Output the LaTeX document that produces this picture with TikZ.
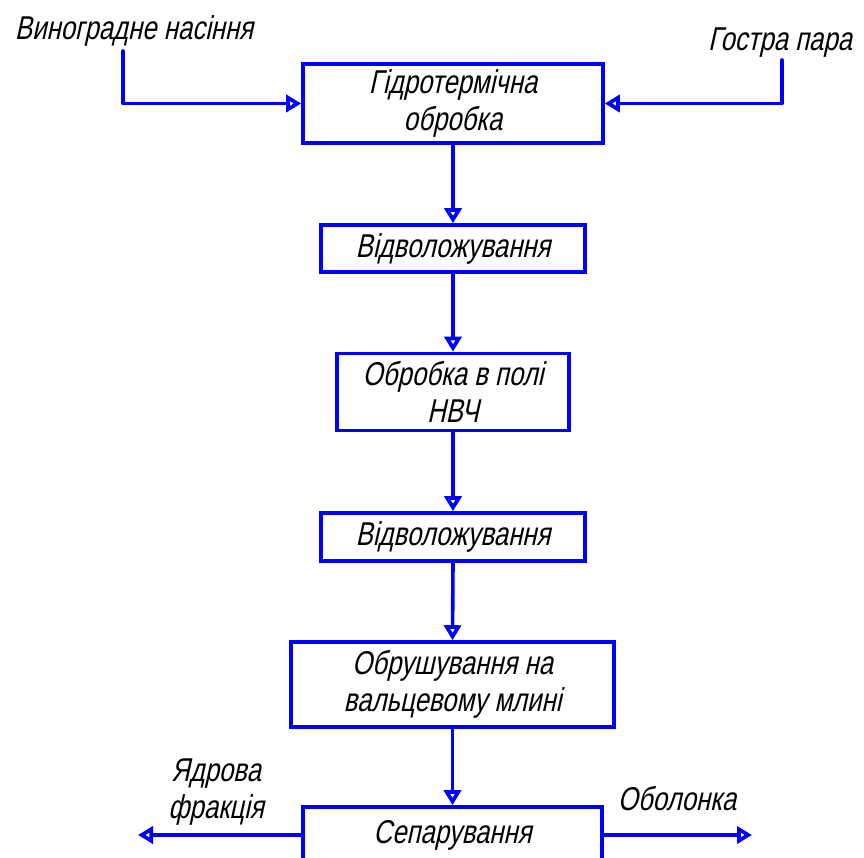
\documentclass[tikz,border=0pt]{standalone}
\usepackage{fontspec}
\setmainfont[FakeSlant=0.22,FakeStretch=0.78]{Liberation Sans}
\usetikzlibrary{arrows.meta}
\definecolor{flowblue}{RGB}{0,0,255}
\tikzset{
  procbox/.style={draw=flowblue, line width=3.6pt, align=center, inner sep=0pt,
    font=\fontsize{33}{37}\selectfont, text=black},
  flow/.style={draw=flowblue, line width=3.6pt, line cap=round, line join=round,
    -{Triangle[open, length=15pt 0, width=17pt 0, line width=4pt 0]}},
  lbl/.style={font=\fontsize{33}{37}\selectfont, align=center, inner sep=0pt, text=black}
}
\begin{document}
\begin{tikzpicture}[x=1pt,y=-1pt]
\useasboundingbox (0,0) rectangle (864,857);
\node[procbox, minimum width=300pt, minimum height=79pt] (b1) at (453,103.5) {Гідротермічна\\обробка};
\node[procbox, minimum width=264pt, minimum height=47pt] (b2) at (453,248.5) {Відволожування};
\node[procbox, minimum width=232pt, minimum height=77pt] (b3) at (453,392) {Обробка в полі\\НВЧ};
\node[procbox, minimum width=264pt, minimum height=48pt] (b4) at (453,537) {Відволожування};
\node[procbox, minimum width=323pt, minimum height=85pt] (b5) at (452.5,684.5) {Обрушування на\\вальцевому млині};
\node[procbox, minimum width=299pt, minimum height=56pt] (b6) at (452.5,835) {Сепарування};

\node[lbl] (t1) at (134,31) {Виноградне насіння};
\node[lbl] (t2) at (780,43) {Гостра пара};
\node[lbl] (t3) at (216,792) {Ядрова\\фракція};
\node[lbl] (t4) at (677,799) {Оболонка};

\coordinate (in1) at (123,51);
\coordinate (in2) at (782,60);
\coordinate (out1) at (138,835);
\coordinate (out2) at (752,835);

\draw[flow] (in1) |- (b1.west);
\draw[flow] (in2) |- (b1.east);
\draw[flow] (b1.south) -- (b2.north);
\draw[flow] (b2.south) -- (b3.north);
\draw[flow] (b3.south) -- (b4.north);
\draw[flow] (b4.south) -- (b5.north);
\draw[flow] (b5.south) -- (b6.north);
\draw[flow] (b6.west) -- (out1);
\draw[flow] (b6.east) -- (out2);
\end{tikzpicture}
\end{document}
